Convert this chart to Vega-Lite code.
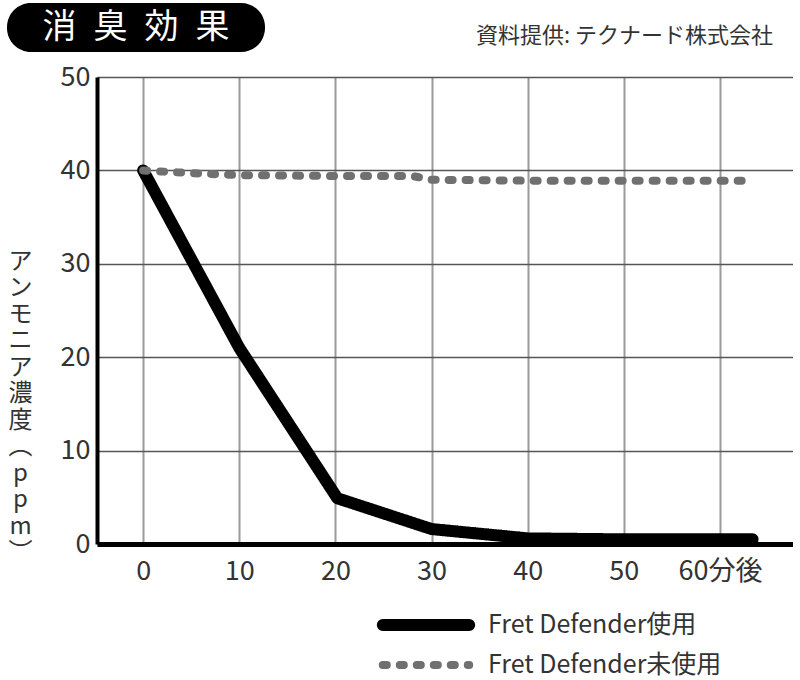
{
  "$schema": "https://vega.github.io/schema/vega-lite/v6.json",
  "padding": {"left": 7, "top": 3, "right": 0, "bottom": 0},
  "spacing": 11,
  "config": {
    "view": {"stroke": null},
    "font": "Noto Sans CJK JP"
  },
  "datasets": {
    "heading": [{"label": "消\u2002臭\u2002効\u2002果"}],
    "source": [{"label": "資料提供: テクナード株式会社"}],
    "blank": [],
    "ammonia": [
      {"minutes": 0, "ppm": 40, "series": "Fret Defender使用"},
      {"minutes": 10, "ppm": 21, "series": "Fret Defender使用"},
      {"minutes": 20.2, "ppm": 4.9, "series": "Fret Defender使用"},
      {"minutes": 30, "ppm": 1.6, "series": "Fret Defender使用"},
      {"minutes": 40, "ppm": 0.6, "series": "Fret Defender使用"},
      {"minutes": 50, "ppm": 0.5, "series": "Fret Defender使用"},
      {"minutes": 63.4, "ppm": 0.5, "series": "Fret Defender使用"},
      {"minutes": 0, "ppm": 40, "series": "Fret Defender未使用"},
      {"minutes": 5, "ppm": 39.7, "series": "Fret Defender未使用"},
      {"minutes": 10, "ppm": 39.5, "series": "Fret Defender未使用"},
      {"minutes": 20, "ppm": 39.4, "series": "Fret Defender未使用"},
      {"minutes": 28, "ppm": 39.4, "series": "Fret Defender未使用"},
      {"minutes": 30, "ppm": 39, "series": "Fret Defender未使用"},
      {"minutes": 40, "ppm": 38.9, "series": "Fret Defender未使用"},
      {"minutes": 50, "ppm": 38.9, "series": "Fret Defender未使用"},
      {"minutes": 62.9, "ppm": 38.9, "series": "Fret Defender未使用"}
    ]
  },
  "vconcat": [
    {
      "spacing": 0,
      "hconcat": [
        {
          "width": 258,
          "height": 49,
          "view": {"fill": "#000000", "cornerRadius": 24, "stroke": null},
          "data": {"name": "heading"},
          "mark": {"type": "text", "color": "#ffffff", "fontSize": 34, "baseline": "middle", "align": "center"},
          "encoding": {"text": {"field": "label"}}
        },
        {
          "width": 508,
          "height": 49,
          "data": {"name": "source"},
          "mark": {"type": "text", "color": "#333333", "fontSize": 22, "baseline": "middle", "align": "right", "dy": 8},
          "encoding": {
            "x": {"value": "width"},
            "text": {"field": "label"}
          }
        }
      ]
    },
    {
      "spacing": 0,
      "hconcat": [
        {
          "width": 1,
          "height": 1,
          "data": {"name": "blank"},
          "mark": "point"
        },
        {
          "width": 696,
          "height": 467,
          "data": {"name": "ammonia"},
          "mark": {"type": "line", "strokeJoin": "round", "strokeCap": "round"},
          "encoding": {
            "x": {
              "field": "minutes",
              "type": "quantitative",
              "scale": {"domain": [-4.8, 67.6], "nice": false, "zero": false},
              "axis": {
                "title": null,
                "values": [0, 10, 20, 30, 40, 50, 60],
                "labelExpr": "datum.value == 60 ? '60分後' : datum.label",
                "ticks": false,
                "domainColor": "#000000",
                "domainWidth": 5,
                "gridColor": "#9a9a9a",
                "gridWidth": 2,
                "labelFontSize": 27,
                "labelColor": "#333333",
                "labelPadding": 14
              }
            },
            "y": {
              "field": "ppm",
              "type": "quantitative",
              "scale": {"domain": [0, 50], "nice": false},
              "axis": {
                "title": ["ア", "ン", "モ", "ニ", "ア", "濃", "度", "︵", "p", "p", "m", "︶"],
                "titleAngle": 0,
                "titleAlign": "center",
                "titleBaseline": "top",
                "titleX": -77,
                "titleY": 172,
                "titleLineHeight": 26.5,
                "titleFontSize": 24,
                "titleFontWeight": "normal",
                "titleColor": "#333333",
                "values": [0, 10, 20, 30, 40, 50],
                "ticks": false,
                "domainColor": "#000000",
                "domainWidth": 4,
                "gridColor": "#555555",
                "gridWidth": 1.5,
                "labelFontSize": 27,
                "labelColor": "#333333",
                "labelPadding": 7
              }
            },
            "color": {
              "field": "series",
              "type": "nominal",
              "scale": {"domain": ["Fret Defender使用", "Fret Defender未使用"], "range": ["#000000", "#707070"]},
              "legend": {
                "title": null,
                "orient": "none",
                "legendX": 401,
                "legendY": 604,
                "symbolType": "M-3.6,0H3.6",
                "symbolSize": 576,
                "symbolStrokeWidth": 12,
                "labelOffset": 44,
                "labelFontSize": 25,
                "labelColor": "#333333",
                "rowPadding": -4,
                "labelLimit": 400,
                "encode": {
                  "symbols": {
                    "update": {
                      "strokeWidth": {"signal": "datum.value === 'Fret Defender使用' ? 12 : 9"},
                      "strokeCap": {"value": "round"},
                      "fill": {"value": "transparent"}
                    }
                  }
                }
              }
            },
            "strokeDash": {
              "field": "series",
              "type": "nominal",
              "scale": {"domain": ["Fret Defender使用", "Fret Defender未使用"], "range": [[1, 0], [4, 13]]}
            },
            "strokeWidth": {
              "field": "series",
              "type": "nominal",
              "scale": {"domain": ["Fret Defender使用", "Fret Defender未使用"], "range": [12, 8]},
              "legend": null
            }
          }
        }
      ]
    }
  ]
}
